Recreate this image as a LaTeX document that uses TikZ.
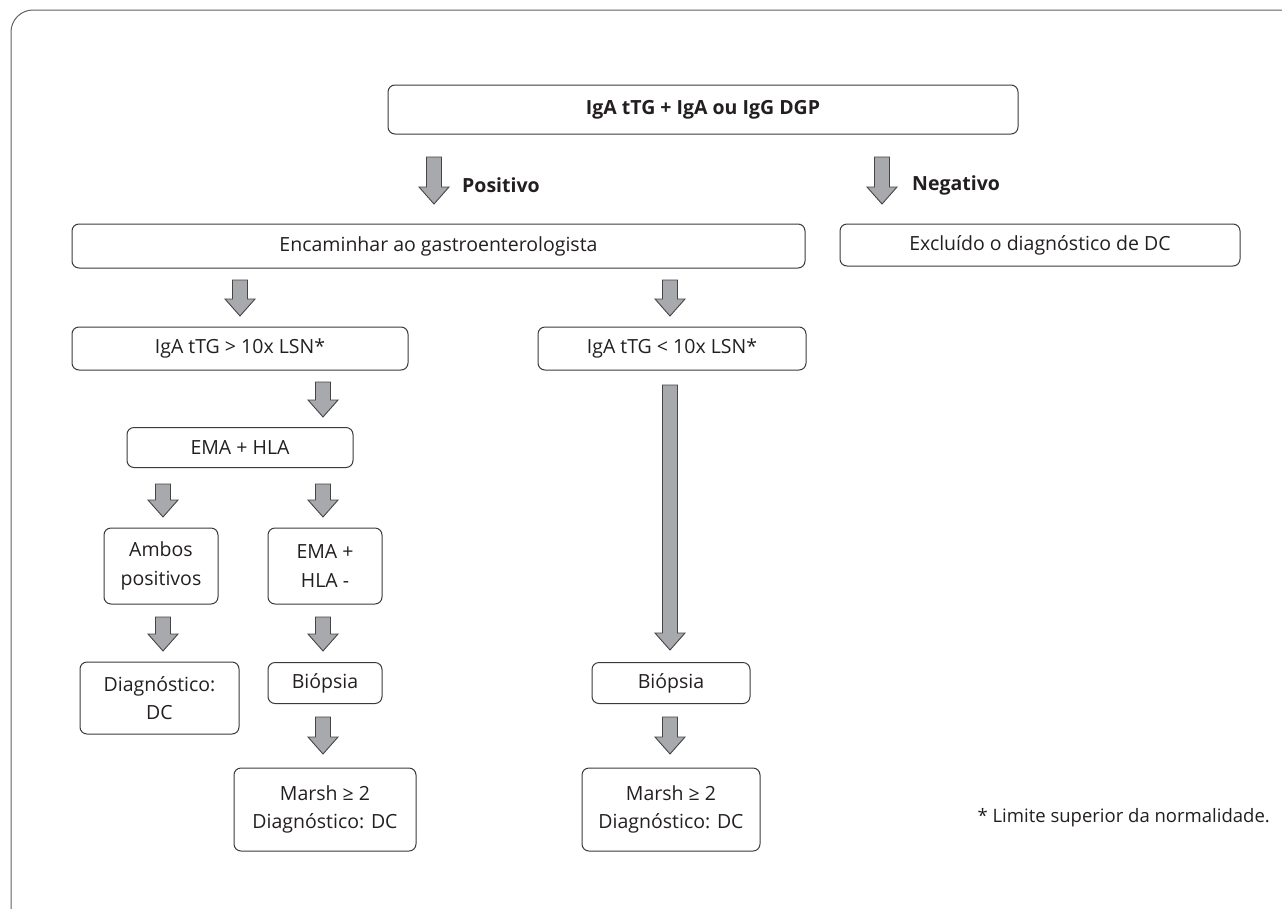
\documentclass[tikz,border=0pt]{standalone}
\usepackage{fontspec}
\setmainfont{Open Sans}
\begin{document}
\begin{tikzpicture}[x=1pt,y=-1pt,
  box/.style={draw=boxc,line width=1pt,rounded corners=7pt,align=center,inner sep=0pt,font=\fontsize{19.5}{28.5}\selectfont,text=txtc},
  arr/.style={fill=arrc,draw=arrd,line width=0.9pt,line join=miter},
  lbl/.style={font=\fontsize{19.5}{28}\selectfont\bfseries,text=txtc,anchor=west,inner sep=0pt}]
\definecolor{boxc}{HTML}{3A3A3A}
\definecolor{txtc}{HTML}{231F20}
\definecolor{arrc}{HTML}{A7A9AC}
\definecolor{arrd}{HTML}{454545}
\useasboundingbox (0,0) rectangle (1282,908);
\draw[draw=boxc!80,line width=1pt,rounded corners=22pt] (11,10) rectangle (1330,960);
\newcommand{\barrow}[3]{\filldraw[arr] (#1-7.5,#2) -- (#1+7.5,#2) -- (#1+7.5,#3-17) -- (#1+15,#3-17) -- (#1,#3) -- (#1-15,#3-17) -- (#1-7.5,#3-17) -- cycle;}
% boxes
\node[box,minimum width=630,minimum height=49,font=\fontsize{19.5}{28}\selectfont\bfseries] (top) at (703,109.5) {IgA tTG + IgA ou IgG DGP};
\node[box,minimum width=733,minimum height=44] (enc) at (438.5,246) {Encaminhar ao gastroenterologista};
\node[box,minimum width=400,minimum height=42] (exc) at (1040,245) {Excluído o diagnóstico de DC};
\node[box,minimum width=336,minimum height=43] (gt) at (240,348.5) {IgA tTG > 10x LSN*};
\node[box,minimum width=268,minimum height=43] (lt) at (672,348.5) {IgA tTG < 10x LSN*};
\node[box,minimum width=226,minimum height=40] (emahla) at (240,447.5) {EMA + HLA};
\node[box,minimum width=114,minimum height=76] (ambos) at (161,566) {Ambos\\positivos};
\node[box,minimum width=114,minimum height=76] (emaneg) at (325,566) {EMA +\\HLA -};
\node[box,minimum width=159,minimum height=72] (diag) at (159.5,698) {Diagnóstico:\\DC};
\node[box,minimum width=114,minimum height=41] (bio1) at (325,683) {Biópsia};
\node[box,minimum width=158,minimum height=41] (bio2) at (671,683) {Biópsia};
\node[box,minimum width=182,minimum height=83] (marsh1) at (325,809.5) {Marsh ≥ 2\\Diagnóstico: DC};
\node[box,minimum width=178,minimum height=83] (marsh2) at (671,809.5) {Marsh ≥ 2\\Diagnóstico: DC};
% arrows
\barrow{434}{157}{204}
\node[lbl] (pos) at (462,185) {Positivo};
\barrow{882}{157}{204}
\node[lbl] (neg) at (912,185) {Negativo};
\barrow{240}{280}{316}
\barrow{670}{280}{316}
\barrow{323}{382}{417}
\barrow{163}{484}{517}
\barrow{323}{484}{517}
\barrow{670}{385}{650}
\barrow{163}{617}{651}
\barrow{323}{617}{651}
\barrow{323}{717}{754}
\barrow{670}{717}{754}
\node[anchor=east,inner sep=0pt,font=\fontsize{18.5}{22}\selectfont,text=txtc] (note) at (1270,818) {* Limite superior da normalidade.};
\end{tikzpicture}
\end{document}
